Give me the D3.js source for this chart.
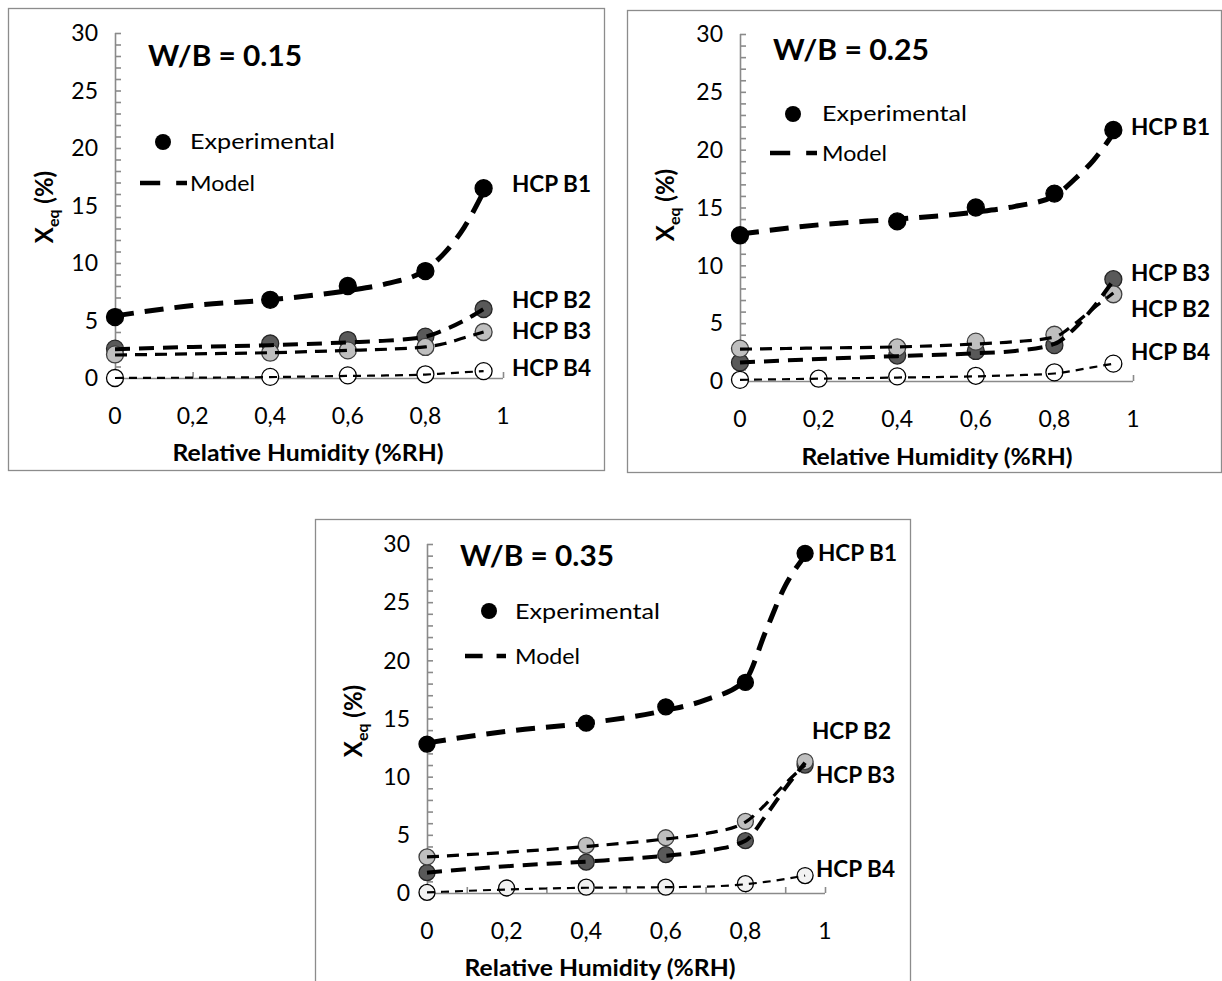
<!DOCTYPE html>
<html><head><meta charset="utf-8">
<script src="https://cdn.jsdelivr.net/npm/d3@7/dist/d3.min.js"></script>
<style>html,body{margin:0;padding:0;background:#fff;}svg{display:block;}</style>
</head><body>
<svg id="chart" width="1222" height="981"></svg>
<script>
// ---------- data ----------
const xTickValues = [0, 0.2, 0.4, 0.6, 0.8, 1];
const xTickLabels = ["0", "0,2", "0,4", "0,6", "0,8", "1"];
const yTickValues = [0, 5, 10, 15, 20, 25, 30];

const rhExp = [0, 0.4, 0.6, 0.8, 0.95];
const rhExpB4 = [0, 0.2, 0.4, 0.6, 0.8, 0.95];
const rhModel = [0, 0.2, 0.4, 0.6, 0.7, 0.8, 0.85, 0.9, 0.95];

// W/B = 0.15
const exp15_B1 = [5.3, 6.8, 8.0, 9.3, 16.5];
const exp15_B2 = [2.55, 3.0, 3.3, 3.6, 6.0];
const exp15_B3 = [2.05, 2.2, 2.4, 2.7, 4.0];
const exp15_B4 = [0.0, 0.1, 0.23, 0.32, 0.6];
const mod15_B1 = [5.4, 6.3, 6.8, 7.6, 8.2, 9.4, 10.9, 13.1, 16.2];
const mod15_B2 = [2.5, 2.7, 2.85, 3.1, 3.25, 3.6, 4.2, 5.0, 6.0];
const mod15_B3 = [2.0, 2.1, 2.2, 2.4, 2.5, 2.7, 3.0, 3.5, 4.0];
const mod15_B4 = [0.0, 0.03, 0.08, 0.18, 0.22, 0.3, 0.4, 0.5, 0.6];

// W/B = 0.25
const exp25_B1 = [12.6, 13.8, 15.0, 16.2, 21.7];
const exp25_dark = [1.6, 2.2, 2.6, 3.1, 8.8];
const exp25_light = [2.8, 2.9, 3.4, 4.0, 7.5];
const exp25_B4 = [0.1, 0.2, 0.4, 0.45, 0.75, 1.5];
const mod25_B1 = [12.7, 13.5, 14.0, 14.6, 15.1, 16.0, 17.4, 19.1, 21.4];
const mod25_dark = [1.6, 1.9, 2.15, 2.4, 2.6, 3.2, 4.5, 6.4, 8.7];
const mod25_light = [2.75, 2.85, 2.95, 3.2, 3.4, 3.8, 4.9, 6.3, 7.6];
const mod25_B4 = [0.1, 0.2, 0.3, 0.4, 0.5, 0.65, 0.9, 1.2, 1.5];

// W/B = 0.35
const exp35_B1 = [12.8, 14.6, 16.0, 18.1, 29.2];
const exp35_dark = [1.75, 2.65, 3.3, 4.5, 11.0];
const exp35_light = [3.1, 4.1, 4.75, 6.15, 11.3];
const exp35_B4 = [0.05, 0.43, 0.5, 0.5, 0.8, 1.5];
const mod35_B1 = [12.9, 13.9, 14.6, 15.7, 16.6, 18.3, 22.4, 26.4, 29.0];
const mod35_dark = [1.75, 2.3, 2.7, 3.2, 3.6, 4.5, 6.6, 9.0, 11.2];
const mod35_light = [3.1, 3.5, 4.0, 4.65, 5.1, 6.1, 7.6, 9.4, 11.0];
const mod35_B4 = [0.05, 0.3, 0.45, 0.5, 0.55, 0.75, 0.95, 1.2, 1.5];

const panelTitles = ["W/B = 0.15", "W/B = 0.25", "W/B = 0.35"];
const legendLabels = ["Experimental", "Model"];
const xTitle = "Relative Humidity (%RH)";

// ---------- styles ----------
const FONT = "Lato, Carlito, Calibri, 'Open Sans', sans-serif";
const styles = {
  b1:    {fill: "#000000", stroke: "#000000", lw: 5,   dash: "19,11"},
  dark:  {fill: "#595959", stroke: "#262626", lw: 4,   dash: "15,9"},
  light: {fill: "#bfbfbf", stroke: "#404040", lw: 3.2, dash: "12,8"},
  white: {fill: "#ffffff", stroke: "#000000", lw: 2.2, dash: "8,6"}
};

const panels = [
  {
    box: [8, 8, 604, 470], x0: 115, x1: 503, yb: 378, yt: 33, xMinor: 0.2, r: 8.5,
    title: {x: 148, y: 66, len: 154},
    legend: {cx: 163, cy: 142, tx: 190, ty1: 149, l1: 145, lx0: 140, lx1: 187, ly: 183, ty2: 191, l2: 65},
    xTitle: {x: 308, y: 461}, yTitle: {x: 53, y: 207},
    labels: [{t: "HCP B1", x: 512, y: 184}, {t: "HCP B2", x: 512, y: 300}, {t: "HCP B3", x: 512, y: 331}, {t: "HCP B4", x: 512, y: 368}],
    series: [
      {st: "dark", ex: rhExp, ey: exp15_B2, my: mod15_B2},
      {st: "light", ex: rhExp, ey: exp15_B3, my: mod15_B3},
      {st: "white", ex: rhExp, ey: exp15_B4, my: mod15_B4},
      {st: "b1", ex: rhExp, ey: exp15_B1, my: mod15_B1}
    ]
  },
  {
    box: [627, 10, 1221, 472], x0: 740, x1: 1133, yb: 381, yt: 34, xMinor: 0.2, r: 8.5,
    title: {x: 773, y: 60, len: 156},
    legend: {cx: 793, cy: 114, tx: 822, ty1: 121, l1: 145, lx0: 770, lx1: 817, ly: 153, ty2: 161, l2: 65},
    xTitle: {x: 937, y: 465}, yTitle: {x: 674, y: 205},
    labels: [{t: "HCP B1", x: 1131, y: 127}, {t: "HCP B3", x: 1131, y: 273}, {t: "HCP B2", x: 1131, y: 309}, {t: "HCP B4", x: 1131, y: 352}],
    series: [
      {st: "dark", ex: rhExp, ey: exp25_dark, my: mod25_dark},
      {st: "light", ex: rhExp, ey: exp25_light, my: mod25_light},
      {st: "white", ex: rhExpB4, ey: exp25_B4, my: mod25_B4},
      {st: "b1", ex: rhExp, ey: exp25_B1, my: mod25_B1}
    ]
  },
  {
    box: [315, 519, 910, 995], x0: 427, x1: 825, yb: 893, yt: 544, xMinor: 0.1, r: 8,
    title: {x: 460, y: 566, len: 154},
    legend: {cx: 489, cy: 611, tx: 515, ty1: 619, l1: 145, lx0: 465, lx1: 506, ly: 656, ty2: 664, l2: 65},
    xTitle: {x: 600, y: 976}, yTitle: {x: 362, y: 721},
    labels: [{t: "HCP B1", x: 818, y: 553}, {t: "HCP B2", x: 812, y: 731}, {t: "HCP B3", x: 816, y: 775}, {t: "HCP B4", x: 816, y: 869}],
    whiteFill: "#f2f2f2",
    series: [
      {st: "dark", ex: rhExp, ey: exp35_dark, my: mod35_dark},
      {st: "light", ex: rhExp, ey: exp35_light, my: mod35_light},
      {st: "white", ex: rhExpB4, ey: exp35_B4, my: mod35_B4},
      {st: "b1", ex: rhExp, ey: exp35_B1, my: mod35_B1}
    ]
  }
];

const svg = d3.select("#chart");
const AX = "#8a8a8a";

panels.forEach((p, pi) => {
  const g = svg.append("g");
  // border
  g.append("rect").attr("x", p.box[0] + 0.5).attr("y", p.box[1] + 0.5)
    .attr("width", p.box[2] - p.box[0]).attr("height", p.box[3] - p.box[1])
    .attr("fill", "none").attr("stroke", "#8c8c8c").attr("stroke-width", 1.3);

  const x = d3.scaleLinear().domain([0, 1]).range([p.x0, p.x1]);
  const y = d3.scaleLinear().domain([0, 30]).range([p.yb, p.yt]);

  // y axis: line + inner minor ticks each unit
  const yAxis = d3.axisRight(y).tickValues(d3.range(0, 31, 1)).tickSize(6).tickFormat("");
  const ya = g.append("g").attr("transform", `translate(${p.x0},0)`).call(yAxis);
  ya.selectAll("path, line").attr("stroke", AX).attr("stroke-width", 1.6);
  ya.select("path").attr("d", `M0.5,${p.yt}V${p.yb}`);

  // x axis: line + inner ticks
  const xAxis = d3.axisTop(x).tickValues(d3.range(0, 1.0001, p.xMinor)).tickSize(6).tickFormat("");
  const xa = g.append("g").attr("transform", `translate(0,${p.yb})`).call(xAxis);
  xa.selectAll("path, line").attr("stroke", AX).attr("stroke-width", 1.6);
  xa.select("path").attr("d", `M${p.x0},0.5H${p.x1}`);

  // tick labels
  g.selectAll(".yl").data(yTickValues).join("text")
    .attr("x", p.x0 - 17).attr("y", d => y(d)).attr("dy", "0.36em")
    .attr("text-anchor", "end").attr("font-family", FONT).attr("font-size", 23).attr("fill", "#000")
    .text(d => d);
  g.selectAll(".xl").data(xTickValues).join("text")
    .attr("x", d => x(d)).attr("y", p.yb + 46)
    .attr("text-anchor", "middle").attr("font-family", FONT).attr("font-size", 23).attr("fill", "#000")
    .text((d, i) => xTickLabels[i]);

  // axis titles
  g.append("text").attr("x", p.xTitle.x).attr("y", p.xTitle.y).attr("text-anchor", "middle")
    .attr("font-family", FONT).attr("font-weight", "bold").attr("font-size", 22)
    .attr("textLength", 271).attr("lengthAdjust", "spacingAndGlyphs").text(xTitle);
  const yt = g.append("text").attr("transform", `translate(${p.yTitle.x},${p.yTitle.y}) rotate(-90)`)
    .attr("text-anchor", "middle").attr("font-family", FONT).attr("font-weight", "bold").attr("font-size", 24);
  yt.append("tspan").text("X");
  yt.append("tspan").attr("font-size", 16).attr("dy", 6).text("eq");
  yt.append("tspan").attr("dy", -6).text(" (%)");

  // panel title
  g.append("text").attr("x", p.title.x).attr("y", p.title.y)
    .attr("font-family", FONT).attr("font-weight", "bold").attr("font-size", 28)
    .attr("textLength", p.title.len).attr("lengthAdjust", "spacingAndGlyphs").text(panelTitles[pi]);

  // legend
  const L = p.legend;
  g.append("circle").attr("cx", L.cx).attr("cy", L.cy).attr("r", 8).attr("fill", "#000");
  g.append("text").attr("x", L.tx).attr("y", L.ty1).attr("font-family", FONT).attr("font-size", 22)
    .attr("textLength", L.l1).attr("lengthAdjust", "spacingAndGlyphs").text(legendLabels[0]);
  const dl = L.lx1 - L.lx0;
  g.append("line").attr("x1", L.lx0).attr("x2", L.lx1).attr("y1", L.ly).attr("y2", L.ly)
    .attr("stroke", "#000").attr("stroke-width", 4.5)
    .attr("stroke-dasharray", `${dl * 0.43},${dl * 0.34},${dl * 0.23},200`);
  g.append("text").attr("x", L.tx).attr("y", L.ty2).attr("font-family", FONT).attr("font-size", 22)
    .attr("textLength", L.l2).attr("lengthAdjust", "spacingAndGlyphs").text(legendLabels[1]);

  // series labels
  g.selectAll(".lab").data(p.labels).join("text")
    .attr("x", d => d.x).attr("y", d => d.y).attr("dy", "0.36em")
    .attr("font-family", FONT).attr("font-weight", "bold").attr("font-size", 23)
    .attr("textLength", 79).attr("lengthAdjust", "spacingAndGlyphs")
    .text(d => d.t);

  // points
  p.series.forEach(s => {
    const st = styles[s.st];
    const fill = (s.st === "white" && p.whiteFill) ? p.whiteFill : st.fill;
    g.append("g").selectAll("circle").data(s.ey.map((v, i) => [s.ex[i], v])).join("circle")
      .attr("cx", d => x(d[0])).attr("cy", d => y(d[1])).attr("r", p.r)
      .attr("fill", fill).attr("stroke", st.stroke).attr("stroke-width", 1.3);
  });
  // model lines
  const line = d3.line().x(d => x(d[0])).y(d => y(d[1])).curve(d3.curveMonotoneX);
  p.series.forEach(s => {
    const st = styles[s.st];
    g.append("path").datum(s.my.map((v, i) => [rhModel[i], v]))
      .attr("d", line).attr("fill", "none").attr("stroke", "#000")
      .attr("stroke-width", st.lw).attr("stroke-dasharray", st.dash);
  });
});
</script>
</body></html>
